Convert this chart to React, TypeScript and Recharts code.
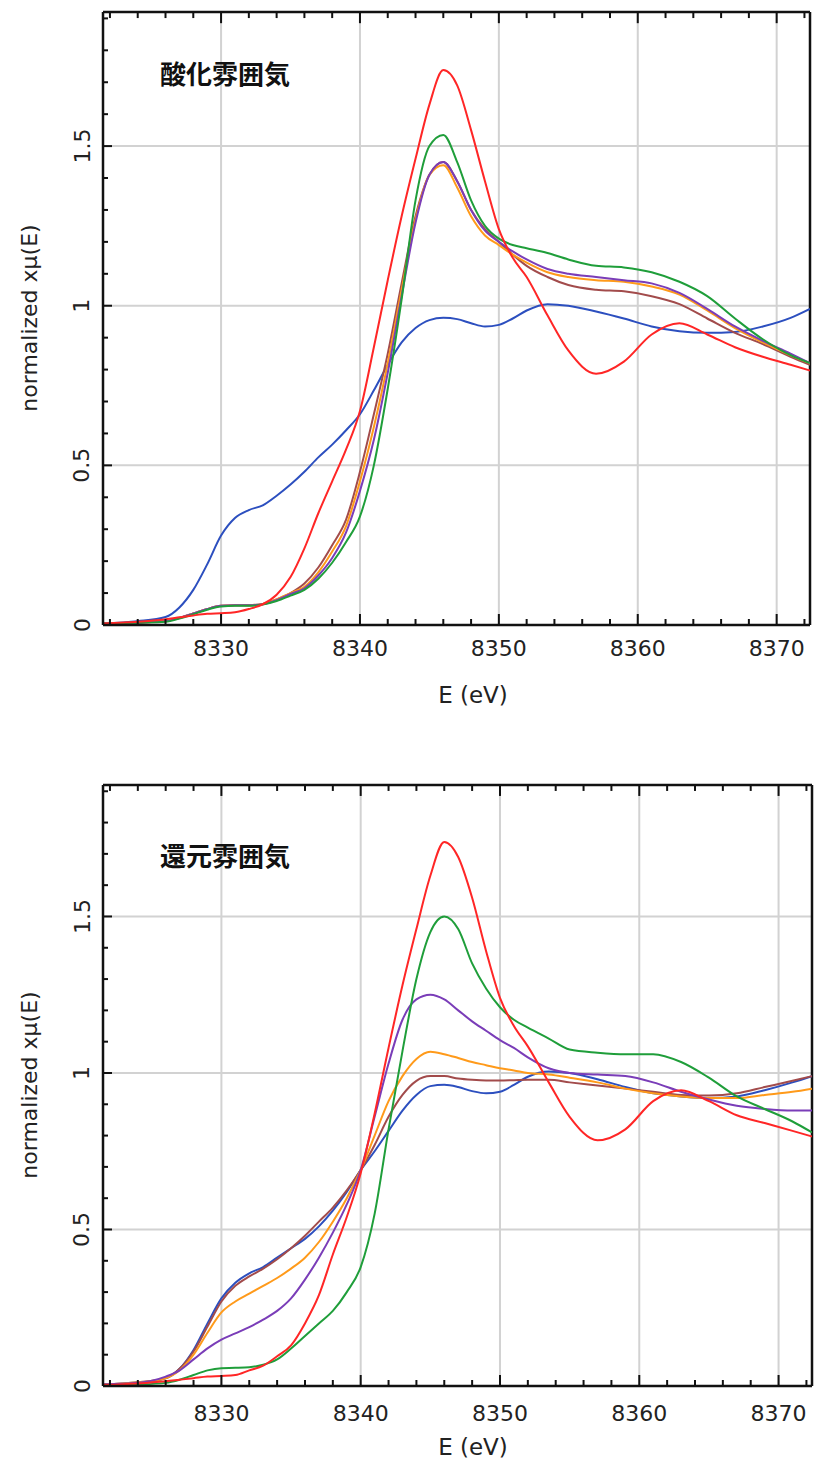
import React from "react";
import { LineChart, Line, XAxis, YAxis, ReferenceLine } from "recharts";

// photon energy grid (eV), shared by every spectrum
const energy = [
  8321.5, 8324, 8326, 8327, 8328, 8329, 8330, 8331, 8332, 8333, 8334, 8335, 8336, 8337, 8338, 8339,
  8340, 8341, 8342, 8343, 8344, 8345, 8346, 8347, 8348, 8349, 8350, 8351, 8352, 8353.5, 8355, 8357,
  8359, 8361, 8363, 8365, 8367, 8369, 8371, 8372.4,
];

// 酸化雰囲気 (oxidizing)
const oxBlue = [0.005, 0.012, 0.025, 0.055, 0.11, 0.19, 0.28, 0.335, 0.36, 0.375, 0.405, 0.44, 0.48, 0.525, 0.565, 0.61, 0.66, 0.735, 0.815, 0.885, 0.93, 0.955, 0.962, 0.958, 0.945, 0.935, 0.94, 0.96, 0.985, 1.005, 1.0, 0.982, 0.96, 0.935, 0.92, 0.915, 0.918, 0.935, 0.962, 0.99];
const oxRed = [0.005, 0.01, 0.018, 0.024, 0.03, 0.035, 0.037, 0.04, 0.05, 0.065, 0.095, 0.15, 0.24, 0.35, 0.45, 0.55, 0.67, 0.87, 1.08, 1.28, 1.46, 1.63, 1.738, 1.69, 1.55, 1.39, 1.24, 1.15, 1.09, 0.97, 0.86, 0.787, 0.825, 0.91, 0.945, 0.91, 0.87, 0.84, 0.815, 0.797];
const oxBrown = [0.005, 0.008, 0.012, 0.022, 0.036, 0.05, 0.06, 0.062, 0.062, 0.066, 0.08, 0.1, 0.13, 0.18, 0.25, 0.33, 0.48, 0.66, 0.85, 1.07, 1.28, 1.41, 1.45, 1.39, 1.3, 1.24, 1.2, 1.16, 1.125, 1.09, 1.065, 1.05, 1.045, 1.03, 1.005, 0.96, 0.915, 0.88, 0.84, 0.815];
const oxOrange = [0.005, 0.008, 0.012, 0.022, 0.036, 0.05, 0.06, 0.062, 0.062, 0.066, 0.08, 0.1, 0.12, 0.165, 0.23, 0.31, 0.45, 0.62, 0.82, 1.05, 1.27, 1.41, 1.44, 1.37, 1.28, 1.22, 1.19, 1.16, 1.135, 1.105, 1.09, 1.08, 1.075, 1.06, 1.035, 0.985, 0.93, 0.885, 0.845, 0.82];
const oxPurple = [0.005, 0.008, 0.012, 0.022, 0.036, 0.05, 0.06, 0.062, 0.062, 0.065, 0.078, 0.097, 0.115, 0.155, 0.21, 0.29, 0.42, 0.58, 0.79, 1.03, 1.26, 1.41, 1.45, 1.39, 1.3, 1.235, 1.2, 1.17, 1.145, 1.115, 1.1, 1.09, 1.08, 1.07, 1.04, 0.99, 0.935, 0.89, 0.85, 0.82];
const oxGreen = [0.004, 0.007, 0.01, 0.02, 0.034, 0.048, 0.058, 0.06, 0.06, 0.064, 0.075, 0.092, 0.11, 0.145, 0.195, 0.26, 0.34, 0.5, 0.74, 1.02, 1.33, 1.5, 1.535, 1.45, 1.33, 1.25, 1.21, 1.19, 1.18, 1.165, 1.145, 1.125, 1.12, 1.105, 1.075, 1.03, 0.96, 0.895, 0.845, 0.82];

// 還元雰囲気 (reducing)
const redBlue = [0.005, 0.012, 0.025, 0.055, 0.115, 0.2, 0.28, 0.33, 0.36, 0.38, 0.41, 0.44, 0.47, 0.51, 0.56, 0.62, 0.69, 0.75, 0.815, 0.88, 0.93, 0.958, 0.962, 0.955, 0.942, 0.935, 0.94, 0.962, 0.988, 1.005, 1.0, 0.98, 0.955, 0.935, 0.925, 0.92, 0.925, 0.945, 0.97, 0.99];
const redRed = [0.003, 0.008, 0.015, 0.02, 0.025, 0.03, 0.032, 0.035, 0.05, 0.065, 0.095, 0.13, 0.2, 0.29, 0.42, 0.54, 0.68, 0.87, 1.08, 1.28, 1.46, 1.63, 1.738, 1.69, 1.56, 1.39, 1.24, 1.15, 1.085, 0.97, 0.86, 0.785, 0.82, 0.91, 0.945, 0.91, 0.865, 0.84, 0.815, 0.797];
const redBrown = [0.005, 0.01, 0.025, 0.055, 0.11, 0.19, 0.27, 0.32, 0.35, 0.375, 0.405, 0.44, 0.48, 0.525, 0.57, 0.625, 0.69, 0.77, 0.86, 0.93, 0.975, 0.99, 0.99, 0.982, 0.978, 0.976, 0.976, 0.977, 0.978, 0.978, 0.97, 0.96, 0.95, 0.94, 0.93, 0.928, 0.935, 0.955, 0.975, 0.99];
const redOrange = [0.005, 0.012, 0.025, 0.05, 0.1, 0.17, 0.235, 0.27, 0.295, 0.32, 0.345, 0.375, 0.41, 0.46, 0.525, 0.6, 0.69, 0.8, 0.91, 0.99, 1.045, 1.068, 1.06, 1.048, 1.035, 1.025, 1.015, 1.008, 1.0, 0.995, 0.985, 0.97, 0.95, 0.935, 0.925, 0.92, 0.92, 0.93, 0.94, 0.95];
const redPurple = [0.005, 0.01, 0.03, 0.05, 0.085, 0.12, 0.148, 0.168, 0.188, 0.212, 0.24, 0.28, 0.34, 0.41, 0.49, 0.58, 0.69, 0.86, 1.03, 1.17, 1.235, 1.25, 1.235, 1.2, 1.165, 1.135, 1.105, 1.08, 1.05, 1.015, 1.0, 0.995, 0.99, 0.97, 0.94, 0.915, 0.895, 0.885, 0.88, 0.88];
const redGreen = [0.003, 0.005, 0.01, 0.02, 0.035, 0.05, 0.057, 0.058, 0.06, 0.068, 0.085, 0.12, 0.16, 0.2, 0.24, 0.3, 0.38, 0.55, 0.82, 1.07, 1.3, 1.45, 1.5, 1.46, 1.35, 1.27, 1.21, 1.17, 1.145, 1.11, 1.075, 1.065, 1.06, 1.06, 1.035, 0.985, 0.925, 0.885, 0.845, 0.81];

const xMajor = [8330, 8340, 8350, 8360, 8370];
const xTicks = [8322, 8324, 8326, 8328, 8330, 8332, 8334, 8336, 8338, 8340, 8342, 8344, 8346, 8348, 8350, 8352, 8354, 8356, 8358, 8360, 8362, 8364, 8366, 8368, 8370, 8372];
const yMajor = [0, 0.5, 1, 1.5];
const yTicks = [0, 0.1, 0.2, 0.3, 0.4, 0.5, 0.6, 0.7, 0.8, 0.9, 1, 1.1, 1.2, 1.3, 1.4, 1.5, 1.6, 1.7, 1.8, 1.9];

const seriesColors = {
  blue: "#2c4fbf",
  brown: "#a24b4b",
  orange: "#ff9a1a",
  purple: "#7a3db8",
  green: "#1f9e3a",
  red: "#ff2626",
};

const FONT = "'DejaVu Sans', sans-serif";
const INK = "#222";
const X_MIN = 8321.5;
const X_MAX = 8372.4;
const Y_MAX = 1.92;

const buildRows = (s: Record<string, number[]>) =>
  energy.map((e, i) => {
    const row: Record<string, number> = { E: e };
    Object.keys(s).forEach((k) => (row[k] = s[k][i]));
    return row;
  });

const isMajorY = (v: number) => Math.abs(v * 2 - Math.round(v * 2)) < 1e-6;

const makeBottomTick = (labelDy: number) => (props: any) => {
  const { x, y, payload } = props;
  const major = payload.value % 10 === 0;
  return (
    <g>
      <line x1={x} x2={x} y1={y} y2={y - (major ? 11 : 6)} stroke="#111" strokeWidth={2} />
      {major && (
        <text x={x} y={y + labelDy} textAnchor="middle" dominantBaseline="central" fontFamily={FONT} fontSize={22} fill={INK}>
          {payload.value}
        </text>
      )}
    </g>
  );
};

const LeftTick = (props: any) => {
  const { x, y, payload } = props;
  const major = isMajorY(payload.value);
  return (
    <g>
      <line x1={x} x2={x + (major ? 9 : 5)} y1={y} y2={y} stroke="#111" strokeWidth={2} />
      {major && (
        <text
          x={x - 21}
          y={y}
          textAnchor="middle"
          dominantBaseline="central"
          fontFamily={FONT}
          fontSize={22}
          fill={INK}
          transform={`rotate(-90 ${x - 21} ${y})`}
        >
          {payload.value}
        </text>
      )}
    </g>
  );
};

function XanesPanel({
  top,
  height,
  marginTop,
  marginRight,
  xAxisHeight,
  labelDy,
  title,
  titleTop,
  yLabelCenter,
  xLabelTop,
  rows,
}: any) {
  const order = ["blue", "brown", "orange", "purple", "green", "red"];
  return (
    <div style={{ position: "absolute", left: 0, top, width: 815, height }}>
      <LineChart width={815} height={height} data={rows} margin={{ top: marginTop, right: marginRight, bottom: 0, left: 0 }}>
        <XAxis
          dataKey="E"
          type="number"
          domain={[X_MIN, X_MAX]}
          allowDataOverflow
          ticks={xTicks}
          interval={0}
          height={xAxisHeight}
          tickSize={0}
          tickMargin={0}
          tick={makeBottomTick(labelDy)}
          axisLine={{ stroke: "#111", strokeWidth: 2.5 }}
        />
        <YAxis
          type="number"
          domain={[0, Y_MAX]}
          allowDataOverflow
          ticks={yTicks}
          interval={0}
          width={103}
          tickSize={0}
          tickMargin={0}
          tick={LeftTick}
          axisLine={{ stroke: "#111", strokeWidth: 2.5 }}
        />
        {xMajor.map((v) => (
          <ReferenceLine key={`gx${v}`} x={v} stroke="#d2d2d2" strokeWidth={2} />
        ))}
        {yMajor
          .filter((v) => v > 0)
          .map((v) => (
            <ReferenceLine key={`gy${v}`} y={v} stroke="#d2d2d2" strokeWidth={2} />
          ))}
        {/* top and right edges of the frame, with inward ticks on top */}
        <ReferenceLine y={Y_MAX} stroke="#111" strokeWidth={2.5} />
        <ReferenceLine x={X_MAX} stroke="#111" strokeWidth={2.5} />
        {xTicks.map((v) => (
          <ReferenceLine
            key={`tt${v}`}
            segment={[
              { x: v, y: Y_MAX },
              { x: v, y: Y_MAX - (v % 10 === 0 ? 0.035 : 0.019) },
            ]}
            stroke="#111"
            strokeWidth={2}
          />
        ))}
        {order.map((k) => (
          <Line
            key={k}
            type="monotone"
            dataKey={k}
            stroke={(seriesColors as any)[k]}
            strokeWidth={2}
            dot={false}
            isAnimationActive={false}
          />
        ))}
      </LineChart>
      <div
        style={{
          position: "absolute",
          left: 160,
          top: titleTop,
          fontFamily: "'Noto Sans CJK JP', sans-serif",
          fontWeight: 700,
          fontSize: 26,
          color: "#111",
          lineHeight: 1,
        }}
      >
        {title}
      </div>
      <div
        style={{
          position: "absolute",
          left: 30,
          top: yLabelCenter,
          transform: "translate(-50%, -50%) rotate(-90deg)",
          whiteSpace: "nowrap",
          fontFamily: FONT,
          fontSize: 22,
          color: INK,
          lineHeight: 1,
        }}
      >
        normalized xμ(E)
      </div>
      <div
        style={{
          position: "absolute",
          left: 473,
          top: xLabelTop,
          transform: "translate(-50%, -50%)",
          whiteSpace: "nowrap",
          fontFamily: FONT,
          fontSize: 23,
          color: INK,
          lineHeight: 1,
        }}
      >
        E (eV)
      </div>
    </div>
  );
}

export default function App() {
  const oxRows = buildRows({ blue: oxBlue, brown: oxBrown, orange: oxOrange, purple: oxPurple, green: oxGreen, red: oxRed });
  const redRows = buildRows({ blue: redBlue, brown: redBrown, orange: redOrange, purple: redPurple, green: redGreen, red: redRed });
  return (
    <div style={{ position: "absolute", left: 0, top: 0, width: 815, height: 1468, background: "#fff", overflow: "hidden" }}>
      <XanesPanel
        top={0}
        height={720}
        marginTop={12}
        marginRight={5}
        xAxisHeight={95}
        labelDy={23}
        title="酸化雰囲気"
        titleTop={60}
        yLabelCenter={318}
        xLabelTop={695}
        rows={oxRows}
      />
      <XanesPanel
        top={735}
        height={733}
        marginTop={50}
        marginRight={3}
        xAxisHeight={82}
        labelDy={27}
        title="還元雰囲気"
        titleTop={107}
        yLabelCenter={350}
        xLabelTop={712}
        rows={redRows}
      />
    </div>
  );
}
